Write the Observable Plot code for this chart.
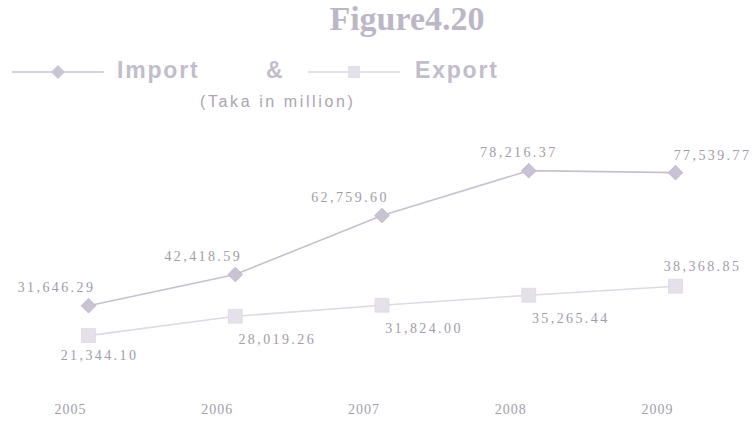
<!DOCTYPE html>
<html>
<head>
<meta charset="utf-8">
<script src="https://cdn.jsdelivr.net/npm/d3@7"></script>
<script src="https://cdn.jsdelivr.net/npm/@observablehq/plot@0.6"></script>
<style>
  html, body { margin: 0; padding: 0; background: #fff; }
  #wrap { position: relative; width: 755px; height: 426px; overflow: hidden; }
  #head { position: relative; width: 755px; height: 115px; }
  .title { position: absolute; left: 0; width: 814px; top: 0px; text-align: center;
    font-family: "Liberation Serif", serif; font-weight: bold; font-size: 34px; color: #bcb7c7; }
  .leg { position: absolute; top: 57px; font-family: "Liberation Sans", Arial, sans-serif;
    font-weight: bold; font-size: 23px; color: #c2bdcb; letter-spacing: 1.8px; }
  .sub { position: absolute; top: 93px; left: 200px; font-family: "Liberation Sans", Arial, sans-serif;
    font-size: 16px; color: #aaa6ae; letter-spacing: 2.6px; }
  svg.sym { position: absolute; }
  .lbl text { letter-spacing: 2.4px; }
  .yr text { letter-spacing: 1px; font-size: 14px; font-family: "Liberation Serif", serif; }
</style>
</head>
<body>
<div id="wrap">
  <div id="head">
    <div class="title">Figure4.20</div>
    <svg class="sym" style="left:12px;top:62px" width="94" height="20">
      <line x1="0" y1="10" x2="92" y2="10" stroke="#c9c4d1" stroke-width="1.5"/>
      <path d="M46,3 L53,10 L46,17 L39,10 Z" fill="#c9c4d4"/>
    </svg>
    <div class="leg" style="left:117px">Import</div>
    <div class="leg" style="left:266px">&amp;</div>
    <svg class="sym" style="left:308px;top:62px" width="94" height="20">
      <line x1="0" y1="10" x2="92" y2="10" stroke="#dcd8e0" stroke-width="1.5"/>
      <rect x="40" y="4" width="12" height="12" fill="#e4e0e9"/>
    </svg>
    <div class="leg" style="left:415px">Export</div>
    <div class="sub">(Taka in million)</div>
  </div>
  <div id="chart"></div>
</div>
<script>
const years = [2005, 2006, 2007, 2008, 2009];
const importValues = [31646.29, 42418.59, 62759.60, 78216.37, 77539.77];
const exportValues = [21344.10, 28019.26, 31824.00, 35265.44, 38368.85];
const importLabels = ["31,646.29", "42,418.59", "62,759.60", "78,216.37", "77,539.77"];
const exportLabels = ["21,344.10", "28,019.26", "31,824.00", "35,265.44", "38,368.85"];

const imp = years.map((y, i) => ({year: y, value: importValues[i], label: importLabels[i], i}));
const exp = years.map((y, i) => ({year: y, value: exportValues[i], label: exportLabels[i], i}));

const labelFont = {fontFamily: "Liberation Serif, serif", fontSize: 14, fill: "#a19da7", textAnchor: "middle", className: "lbl"};

const chart = Plot.plot({
  width: 755,
  height: 311,
  marginLeft: 88,
  marginRight: 80,
  marginTop: 21,
  marginBottom: 58,
  x: {domain: [2005, 2009], axis: null},
  y: {domain: [10000, 90000], axis: null},
  marks: [
    Plot.line(imp, {x: "year", y: "value", stroke: "#c6c0cf", strokeWidth: 1.6}),
    Plot.line(exp, {x: "year", y: "value", stroke: "#dedae3", strokeWidth: 1.6}),
    Plot.dot(imp, {x: "year", y: "value", symbol: "diamond2", r: 6.6, fill: "#c8c3d3", stroke: "#bab4c6", strokeWidth: 0.8}),
    Plot.dot(exp, {x: "year", y: "value", symbol: "square", r: 7.8, fill: "#e5e1ea", stroke: "#dcd7e2", strokeWidth: 0.8}),
    Plot.text(imp.filter(d => d.i < 3), {x: "year", y: "value", text: "label", dx: -32, dy: -18, ...labelFont}),
    Plot.text(imp.filter(d => d.i === 3), {x: "year", y: "value", text: "label", dx: -10, dy: -18, ...labelFont}),
    Plot.text(imp.filter(d => d.i === 4), {x: "year", y: "value", text: "label", dx: 37, dy: -17, ...labelFont}),
    Plot.text(exp.filter(d => d.i === 0), {x: "year", y: "value", text: "label", dx: 11, dy: 20, ...labelFont}),
    Plot.text(exp.filter(d => d.i > 0 && d.i < 4), {x: "year", y: "value", text: "label", dx: 42, dy: 23, ...labelFont}),
    Plot.text(exp.filter(d => d.i === 4), {x: "year", y: "value", text: "label", dx: 27, dy: -20, ...labelFont}),
    Plot.axisX({ticks: years, tickFormat: d => String(d), tickSize: 0, tickPadding: 36, dx: -18, label: null,
      className: "yr", fill: "#a29ea8"})
  ]
});
document.getElementById("chart").appendChild(chart);
</script>
</body>
</html>
